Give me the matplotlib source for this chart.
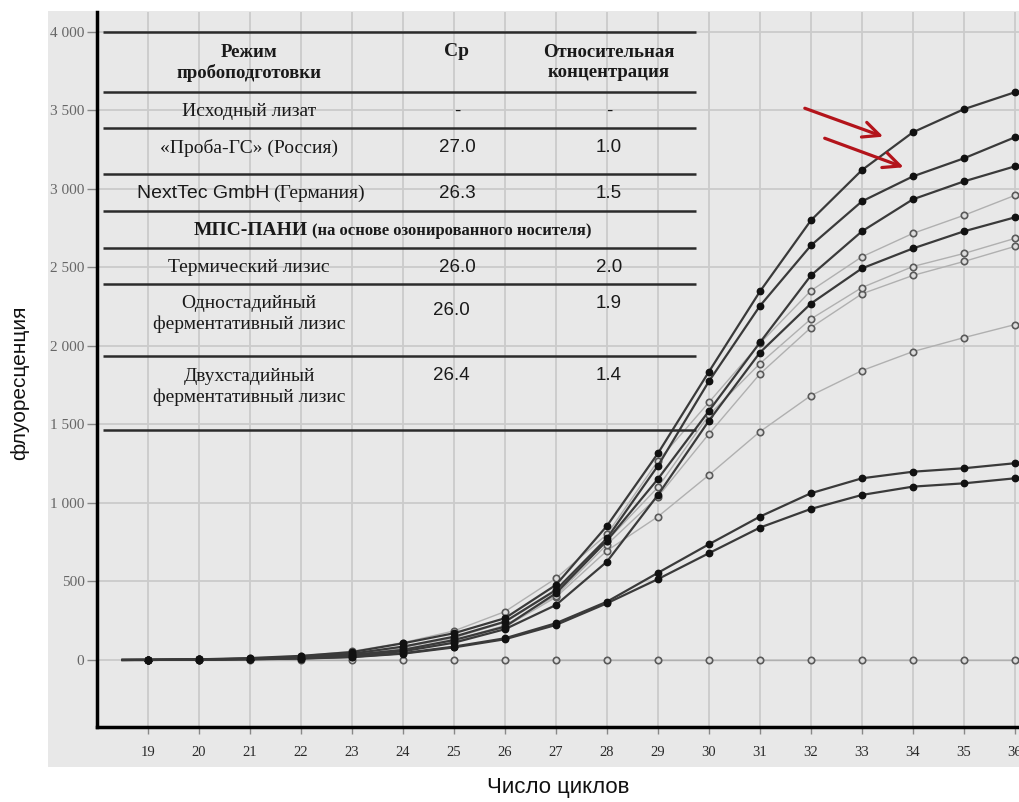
import matplotlib
matplotlib.use("Agg")
import matplotlib.pyplot as plt
from matplotlib.patches import Rectangle
from matplotlib.ticker import FuncFormatter

plt.rcParams["font.family"] = ["Liberation Serif", "DejaVu Serif"]

# PCR cycles (curves start half a cycle before the first reading)
cycles = [18.5, 19, 20, 21, 22, 23, 24, 25, 26, 27, 28, 29, 30, 31, 32, 33, 34, 35, 36]

# Fluorescence, samples with filled markers
curve_a = [0, 1, 4, 12, 26, 50, 106, 170, 266, 478, 854, 1316, 1836, 2347, 2800, 3120, 3361, 3508, 3616]
curve_b = [0, 1, 3, 8, 18, 40, 85, 148, 244, 446, 775, 1237, 1775, 2255, 2640, 2921, 3080, 3195, 3329]
curve_c = [0, 1, 3, 7, 15, 32, 64, 127, 212, 425, 760, 1153, 1586, 2022, 2449, 2730, 2934, 3048, 3144]
curve_d = [0, 0, 2, 6, 12, 28, 55, 110, 196, 350, 626, 1051, 1524, 1958, 2270, 2494, 2621, 2730, 2819]
curve_l1 = [0, 0, 2, 5, 10, 20, 43, 85, 138, 234, 371, 555, 737, 913, 1062, 1157, 1199, 1221, 1253]
curve_l2 = [0, 0, 2, 4, 9, 18, 40, 80, 132, 223, 361, 515, 680, 843, 962, 1051, 1104, 1125, 1157]

# Fluorescence, samples with open markers
curve_e = [0, 2, 5, 12, 26, 55, 110, 185, 308, 520, 800, 1268, 1641, 2016, 2352, 2568, 2717, 2832, 2959]
curve_f = [0, 1, 4, 9, 20, 40, 80, 140, 240, 440, 760, 1100, 1560, 1888, 2172, 2372, 2506, 2589, 2685]
curve_g = [0, 1, 3, 8, 17, 35, 70, 125, 220, 410, 735, 1040, 1440, 1822, 2117, 2332, 2449, 2538, 2634]
curve_h = [0, 1, 3, 7, 14, 30, 62, 115, 210, 400, 696, 913, 1178, 1454, 1684, 1843, 1964, 2053, 2136]
curve_zero = [0] * 19

x_ticks = list(range(19, 37))
y_ticks = list(range(0, 4001, 500))

# Table contents
header = ["Режим\nпробоподготовки", "Ср", "Относительная\nконцентрация"]
methods = ["Исходный лизат", "«Проба-ГС» (Россия)", "NextTec GmbH", "(Германия)",
           "Термический лизис", "Одностадийный\nферментативный лизис",
           "Двухстадийный\nферментативный лизис"]
group_title = ["МПС-ПАНИ", "(на основе озонированного носителя)"]
cp_values = ["-", "27.0", "26.3", "26.0", "26.0", "26.4"]
rel_conc = ["-", "1.0", "1.5", "2.0", "1.9", "1.4"]

W, H = 1020, 802
fig = plt.figure(figsize=(W / 100, H / 100), dpi=100)
fig.patch.set_facecolor("white")
bg = "#e8e8e8"
fig.patches.append(Rectangle((48 / W, 1 - 767 / H), (W - 48) / W, (767 - 11) / H,
                             transform=fig.transFigure, facecolor=bg, edgecolor="none", zorder=-5))

ax = fig.add_axes([97 / W, (H - 727) / H, 923 / W, 715 / H])
ax.set_facecolor(bg)

marks = list(range(1, len(cycles)))
for s in [curve_zero, curve_h, curve_g, curve_f, curve_e]:
    ax.plot(cycles, s, color="#b0b0b0", lw=1.0, marker="o", ms=4.6, mfc="#dddddd",
            mec="#5a5a5a", mew=1.2, markevery=marks, zorder=3)
for s in [curve_l2, curve_l1, curve_d, curve_c, curve_b, curve_a]:
    ax.plot(cycles, s, color="#3a3a3a", lw=1.6, marker="o", ms=4.6, mfc="#111111",
            mec="#111111", markevery=marks, zorder=4)

ax.set_xlim(18, 36.1)
ax.set_ylim(-427, 4127)
ax.set_xticks(x_ticks)
ax.set_yticks(y_ticks)
ax.yaxis.set_major_formatter(FuncFormatter(lambda v, p: f"{int(v):,}".replace(",", " ")))
ax.grid(True, color="#cbcbcb", lw=1.3, zorder=1)
ax.set_axisbelow(True)
for side in ("top", "right"):
    ax.spines[side].set_visible(False)
for side in ("left", "bottom"):
    ax.spines[side].set_color("black")
    ax.spines[side].set_linewidth(2.5)
ax.tick_params(axis="x", length=5, width=1, color="#888888", pad=9,
               labelsize=10.5, labelcolor="#2a2a2a")
ax.tick_params(axis="y", length=7, width=1, color="#888888", pad=2,
               labelsize=11, labelcolor="#666666")

# Table drawn inside the axes (axes-fraction coordinates)
rules_y = [0.9725, 0.8886, 0.8382, 0.7730, 0.7217, 0.6703, 0.6192, 0.5189, 0.4154]
ax.hlines(rules_y, 0.0065, 0.649, transform=ax.transAxes, colors="#2b2b2b", lw=1.8, zorder=5)

col1, col2, col3 = 0.1647, 0.390, 0.5547
serif = "Liberation Serif"
sans = "Liberation Sans"
kw = dict(transform=ax.transAxes, va="center", zorder=6, color="#1a1a1a")

ax.text(col1, 0.929, header[0], ha="center", fontsize=13.5, weight="bold",
        family=serif, linespacing=1.25, **kw)
ax.text(col2, 0.9445, header[1], ha="center", fontsize=14, weight="bold", family=serif, **kw)
ax.text(col3, 0.929, header[2], ha="center", fontsize=13.5, weight="bold",
        family=serif, linespacing=1.25, **kw)

ax.text(col1, 0.8606, methods[0], ha="center", fontsize=14, family=serif, **kw)
ax.text(col1, 0.8098, methods[1], ha="center", fontsize=14, family=serif, **kw)
ax.text(0.1863, 0.7464, methods[2], ha="right", fontsize=14, family=sans, **kw)
ax.text(0.1905, 0.7464, methods[3], ha="left", fontsize=14, family=serif, **kw)
ax.text(0.2286, 0.6941, group_title[0], ha="right", fontsize=14, weight="bold", family=serif, **kw)
ax.text(0.2330, 0.6941, group_title[1], ha="left", fontsize=12, weight="bold", family=serif, **kw)
ax.text(col1, 0.6424, methods[4], ha="center", fontsize=14, family=serif, **kw)
ax.text(col1, 0.5774, methods[5], ha="center", fontsize=14, family=serif, linespacing=1.25, **kw)
ax.text(col1, 0.4753, methods[6], ha="center", fontsize=14, family=serif, linespacing=1.25, **kw)

cp_y = [0.8606, 0.8098, 0.7464, 0.6424, 0.5832, 0.4923]
cp_x = [col2, col2, col2, col2, 0.384, 0.384]
rc_y = [0.8606, 0.8098, 0.7464, 0.6424, 0.5926, 0.4923]
for v, x, y in zip(cp_values, cp_x, cp_y):
    ax.text(x, y, v, ha="center", fontsize=13.5, family=sans, **kw)
for v, y in zip(rel_conc, rc_y):
    ax.text(col3, y, v, ha="center", fontsize=13.5, family=sans, **kw)

# Arrows marking the two upper curves
arrow = dict(arrowstyle="->,head_length=0.6,head_width=0.28", color="#b3141b", lw=2.3,
             mutation_scale=20, shrinkA=0, shrinkB=0)
ax.annotate("", xy=(33.42, 3333), xytext=(31.88, 3514), arrowprops=arrow, zorder=7)
ax.annotate("", xy=(33.82, 3138), xytext=(32.27, 3323), arrowprops=arrow, zorder=7)

fig.text(558 / W, 1 - 788 / H, "Число циклов", ha="center", va="center",
         fontsize=16, family=sans, color="#111111")
fig.text(20 / W, 1 - 383 / H, "флуоресценция", ha="center", va="center", rotation=90,
         fontsize=15, family=sans, color="#111111")

fig.savefig("out.png", dpi=100, facecolor=fig.get_facecolor())
